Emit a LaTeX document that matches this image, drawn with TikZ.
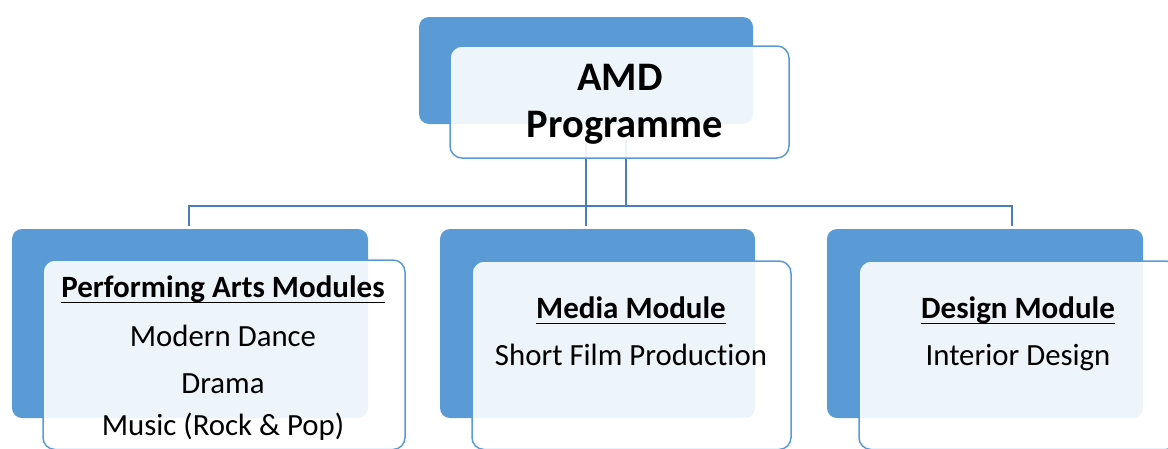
\documentclass[tikz,border=0pt]{standalone}
\usepackage{fontspec}
\setmainfont{Carlito}[Ligatures={NoCommon}]
\definecolor{accent}{HTML}{5B9BD5}
\definecolor{linkc}{HTML}{4A7EBB}
\tikzset{
  backbox/.style={fill=accent, rounded corners=10pt},
  frontbox/.style={draw=accent, line width=1.5pt, fill=white, fill opacity=0.9, rounded corners=12pt},
  link/.style={draw=linkc, line width=2pt},
  title/.style={anchor=base, font=\fontsize{40.5}{48}\selectfont\bfseries, inner sep=0pt},
  head/.style={anchor=base, font=\fontsize{31}{36}\selectfont\bfseries, inner sep=0pt},
  item/.style={anchor=base, font=\fontsize{30.8}{36}\selectfont, inner sep=0pt},
  uline/.style={draw=black, line width=1.8pt},
}
\begin{document}
\begin{tikzpicture}[x=1pt,y=-1pt]
\useasboundingbox (0,0) rectangle (1168,448);
\begin{scope}
\clip (0,0) rectangle (1168,448);
% connectors
\coordinate (t1) at (586,140);
\coordinate (t2) at (626,140);
\coordinate (j2) at (626,206);
\coordinate (bl) at (189,206);
\coordinate (br) at (1012,206);
\coordinate (el) at (189,226);
\coordinate (em) at (586,226);
\coordinate (er) at (1012,226);
\draw[link] (t1) -- (em);
\draw[link] (t2) -- (j2);
\draw[link] (el) -- (bl) -- (br) -- (er);
% top box
\path[backbox] (419,17) rectangle (753,124);
\path[frontbox] (450,46) rectangle (789,158);
\node[title] (amd) at (620,90) {AMD};
\node[title] (prog) at (625,137) {Programme};
% left box
\path[backbox] (12,229) rectangle (368,418);
\path[frontbox] (43,260) rectangle (405,449.5);
\node[head] (pa) at (223,297) {Performing Arts Modules};
\draw[uline] ([yshift=-5.5pt]pa.base west) -- ([yshift=-5.5pt]pa.base east);
\node[item] (md) at (223,346) {Modern Dance};
\node[item] (dr) at (223,393) {Drama};
\node[item] (mu) at (223,435) {Music (Rock \& Pop)};
% middle box
\path[backbox] (440,229) rectangle (755,418);
\path[frontbox] (472,261) rectangle (791,449.5);
\node[head] (mm) at (631,318) {Media Module};
\draw[uline] ([yshift=-5.5pt]mm.base west) -- ([yshift=-5.5pt]mm.base east);
\node[item] (sf) at (631,365) {Short Film Production};
% right box
\path[backbox] (827,229) rectangle (1143,418);
\path[frontbox] (859,261) rectangle (1178,449.5);
\node[head] (dm) at (1018,318) {Design Module};
\draw[uline] ([yshift=-5.5pt]dm.base west) -- ([yshift=-5.5pt]dm.base east);
\node[item] (id) at (1018,365) {Interior Design};
\end{scope}
\end{tikzpicture}
\end{document}
